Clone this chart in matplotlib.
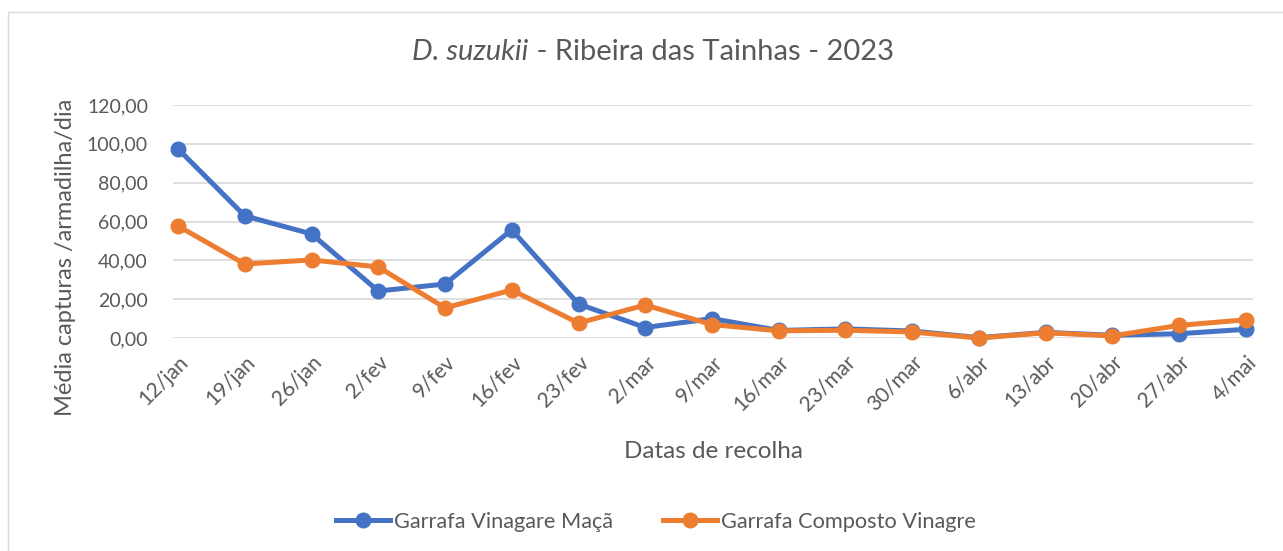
import matplotlib.pyplot as plt
from matplotlib.patches import Rectangle

# dates of collection
datas = ['12/jan', '19/jan', '26/jan', '2/fev', '9/fev', '16/fev', '23/fev', '2/mar',
         '9/mar', '16/mar', '23/mar', '30/mar', '6/abr', '13/abr', '20/abr', '27/abr', '4/mai']

# mean captures per trap per day
maca = [97.4, 62.9, 53.6, 24.2, 27.8, 55.7, 17.5, 5.4, 10.0, 3.9, 4.7, 3.6, 0.2, 2.9, 1.4, 2.2, 4.5]
composto = [57.7, 38.1, 40.2, 36.6, 15.5, 24.7, 7.7, 17.0, 6.9, 3.7, 4.0, 3.1, 0.0, 2.7, 1.1, 6.5, 9.4]

yticks = [0, 20, 40, 60, 80, 100, 120]

plt.rcParams['font.family'] = ['Lato', 'DejaVu Sans']
cinza = '#595959'

fig = plt.figure(figsize=(12.83, 5.51), dpi=100)
fig.patches.append(Rectangle((8 / 1283, -0.01), 1.0, 1 - 12 / 551 + 0.01, transform=fig.transFigure,
                             fill=False, edgecolor='#D9D9D9', linewidth=1))

ax = fig.add_axes([173 / 1283, 1 - 338 / 551, (1253 - 173) / 1283, (338 - 105) / 551])
x = list(range(len(datas)))
ax.plot(x, maca, '-o', color='#4472C4', lw=3.6, markersize=10.5, clip_on=False, zorder=3,
        label='Garrafa Vinagare Maçã')
ax.plot(x, composto, '-o', color='#ED7D31', lw=3.6, markersize=10.5, clip_on=False, zorder=4,
        label='Garrafa Composto Vinagre')

ax.set_xlim(-0.075, 16.105)
ax.set_ylim(0, 120)
ax.set_yticks(yticks)
ax.set_yticklabels(['%d,00' % v for v in yticks], fontsize=14, color=cinza)
ax.set_xticks(x)
ax.set_xticklabels(datas, rotation=45, ha='right', rotation_mode='anchor', fontsize=15, color=cinza)
ax.tick_params(axis='y', length=0, pad=18)
ax.tick_params(axis='x', length=0, pad=10)
ax.grid(axis='y', color='#D9D9D9', lw=1.2)
ax.set_axisbelow(True)
for s in ax.spines.values():
    s.set_visible(False)

ax.set_ylabel('Média capturas /armadilha/dia', fontsize=17, color=cinza, va='center')
ax.yaxis.set_label_coords((66 - 173) / 1080, (338 - 257) / 233)
ax.set_xlabel('Datas de recolha', fontsize=17.5, color=cinza, va='center')
ax.xaxis.set_label_coords(0.5, (338 - 451) / 233)

# title: italic species name + regular rest, centred together
ty = 1 - 52 / 551
t1 = fig.text(0, ty, 'D. suzukii', fontsize=21, style='italic', color=cinza, va='center', ha='left')
t2 = fig.text(0, ty, ' - Ribeira das Tainhas - 2023', fontsize=21, color=cinza, va='center', ha='left')
r = fig.canvas.get_renderer()
w1 = t1.get_window_extent(r).width
w2 = t2.get_window_extent(r).width
x0 = 653 - (w1 + w2) / 2
t1.set_x(x0 / 1283)
t2.set_x((x0 + w1) / 1283)

fig.legend(loc='center', bbox_to_anchor=(0.511, 1 - 522 / 551), ncol=2, frameon=False, fontsize=15.7,
           labelcolor=cinza, handlelength=2.5, handletextpad=0.15, columnspacing=2.3)

fig.savefig('out.png', dpi=100)
